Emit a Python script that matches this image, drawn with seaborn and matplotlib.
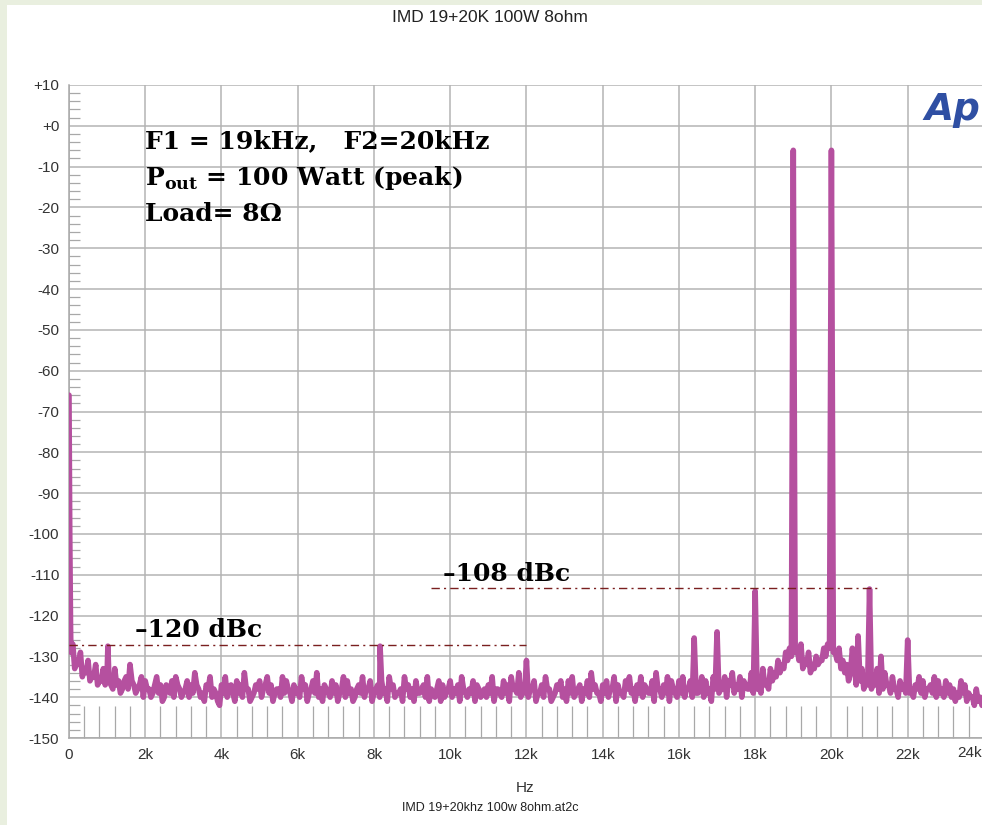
import numpy as np
import pandas as pd
import matplotlib
matplotlib.use("Agg")
import matplotlib.pyplot as plt
from matplotlib.patches import Rectangle
from matplotlib.ticker import MultipleLocator
import seaborn as sns

# FFT noise floor, one value per 100 Hz (0 .. 24.4 kHz)
floor_hz = list(range(0, 24401, 100))
floor_db = [
    -66, -127, -131, -129, -133, -131, -135, -132, -136, -133,
    -134, -137, -133, -136, -138, -135, -132, -137, -138, -135,
    -136, -138, -139, -135, -137, -140, -138, -136, -135, -138,
    -139, -136, -137, -134, -138, -139, -137, -135, -138, -141,
    -137, -135, -138, -139, -136, -137, -134, -138, -140, -137,
    -136, -138, -135, -137, -139, -138, -135, -136, -139, -137,
    -138, -135, -137, -139, -136, -134, -138, -137, -139, -136,
    -137, -139, -135, -136, -138, -140, -137, -135, -138, -136,
    -139, -137, -136, -138, -135, -137, -139, -138, -135, -137,
    -138, -136, -139, -137, -135, -138, -140, -136, -137, -139,
    -136, -138, -137, -135, -139, -138, -136, -137, -140, -138,
    -137, -135, -138, -139, -136, -137, -135, -138, -134, -137,
    -133, -138, -136, -139, -137, -135, -138, -140, -137, -136,
    -138, -136, -135, -139, -137, -138, -136, -134, -137, -139,
    -137, -136, -138, -135, -137, -139, -136, -135, -138, -137,
    -135, -137, -139, -136, -134, -138, -137, -135, -136, -139,
    -136, -135, -138, -136, -137, -139, -135, -136, -138, -135,
    -136, -138, -135, -136, -134, -137, -135, -136, -138, -134,
    -134, -137, -133, -136, -133, -134, -131, -132, -129, -128,
    -126, -128, -127, -131, -129, -132, -130, -131, -128, -127,
    -126, -129, -128, -131, -132, -134, -132, -135, -133, -136,
    -134, -136, -133, -137, -134, -137, -135, -138, -136, -137,
    -135, -138, -137, -135, -136, -138, -137, -135, -136, -138,
    -136, -137, -138, -139, -136, -137, -139, -140, -138, -140,
    -139, -142, -140, -141, -142,
]

# the bins in between (50 Hz offset), mostly the lower edge of the noise band
floor_b_hz = list(range(50, 24400, 100))
floor_b_db = [
    -129, -133, -132, -135, -134, -136, -135, -137, -136, -137,
    -136, -138, -137, -139, -136, -138, -136, -139, -137, -140,
    -138, -140, -137, -139, -141, -137, -139, -140, -137, -140,
    -138, -140, -139, -137, -140, -141, -138, -140, -139, -142,
    -139, -140, -137, -141, -139, -140, -138, -141, -139, -138,
    -140, -137, -139, -141, -138, -140, -139, -138, -141, -139,
    -140, -138, -141, -138, -139, -140, -141, -138, -140, -139,
    -141, -138, -140, -139, -141, -138, -139, -140, -138, -141,
    -138, -140, -139, -141, -138, -140, -139, -141, -138, -140,
    -141, -139, -138, -140, -141, -139, -138, -141, -140, -138,
    -140, -139, -141, -138, -140, -139, -141, -138, -139, -140,
    -139, -141, -138, -140, -139, -141, -138, -139, -140, -139,
    -140, -138, -141, -139, -140, -138, -141, -139, -138, -140,
    -141, -139, -140, -138, -141, -139, -140, -138, -139, -141,
    -139, -140, -138, -141, -139, -140, -138, -139, -141, -139,
    -140, -138, -139, -141, -138, -140, -139, -141, -138, -140,
    -139, -140, -138, -140, -139, -138, -140, -139, -141, -138,
    -139, -138, -140, -137, -139, -138, -140, -137, -138, -139,
    -138, -139, -137, -138, -136, -135, -134, -133, -131, -130,
    -129, -131, -133, -132, -134, -133, -132, -131, -130, -128,
    -129, -131, -133, -134, -136, -135, -137, -136, -138, -137,
    -138, -137, -139, -138, -137, -139, -138, -140, -138, -139,
    -139, -140, -138, -139, -140, -138, -139, -140, -139, -140,
    -139, -140, -141, -140, -139, -141, -140, -142, -141, -142,
    -142, -143, -142, -143,
]

# tones, harmonics and IMD products
spike_hz = [20, 40, 1020, 8160, 12000, 16400, 17000, 18000, 19000, 20000,
            20550, 20700, 21000, 21300, 22000]
spike_db = [-100, -122, -127.5, -127.5, -131, -125.5, -124, -114, -6, -6,
            -128, -125, -113.5, -130, -126]

# dBc reference lines
ref_db = [-127.3, -113.3]
ref_start = [0, 9500]
ref_end = [12000, 21200]
ref_text = ["\u2013120 dBc", "\u2013108 dBc"]

y_ticks = list(range(-150, 11, 10))
y_labels = ["+10" if v == 10 else "+0" if v == 0 else str(v) for v in y_ticks]
x_ticks = list(range(0, 23000, 2000))
x_labels = ["0", "2k", "4k", "6k", "8k", "10k", "12k", "14k", "16k", "18k", "20k", "22k"]

W, H = 982, 825
trace_color = "#b5509f"

df = pd.concat([
    pd.DataFrame({"hz": floor_hz, "db": floor_db}),
    pd.DataFrame({"hz": floor_b_hz, "db": floor_b_db}),
    pd.DataFrame({"hz": spike_hz, "db": spike_db}),
])
df = df.drop_duplicates("hz", keep="last").sort_values("hz")

sns.set_style("white")
plt.rcParams["font.family"] = ["Liberation Sans", "DejaVu Sans"]
plt.rcParams["mathtext.fontset"] = "custom"
plt.rcParams["mathtext.bf"] = "DejaVu Serif:bold"
plt.rcParams["mathtext.rm"] = "DejaVu Serif:bold"

fig = plt.figure(figsize=(W / 100, H / 100), dpi=100, facecolor="#e9efdf")
fig.patches.append(Rectangle((7 / W, 0), 1 - 7 / W, 1 - 5 / H, transform=fig.transFigure,
                             facecolor="white", edgecolor="none", zorder=-5))

ax = fig.add_axes([69 / W, 1 - 738 / H, (W - 69) / W, (738 - 85) / H])
ax.set_facecolor("white")

sns.lineplot(data=df, x="hz", y="db", ax=ax, color=trace_color, linewidth=4.0,
             estimator=None, sort=False, zorder=3)

for lvl, x0, x1 in zip(ref_db, ref_start, ref_end):
    ax.plot([x0, x1], [lvl, lvl], color="#7a1f1f", linewidth=1.0,
            linestyle=(0, (6, 3, 1.5, 3)), zorder=4)

ax.set_xlim(0, 23950)
ax.set_ylim(-150, 10)
ax.set_xticks(x_ticks)
ax.set_xticklabels(x_labels)
ax.set_yticks(y_ticks)
ax.set_yticklabels(y_labels)
ax.xaxis.set_minor_locator(MultipleLocator(400))
ax.yaxis.set_minor_locator(MultipleLocator(2))
ax.grid(True, which="major", color="#b4b4b4", linewidth=1.1, zorder=1)
ax.tick_params(axis="both", which="major", length=0, labelsize=11,
               labelcolor="#333333", pad=7)
ax.tick_params(axis="x", which="minor", direction="in", length=23, width=0.9,
               color="#a8a8a8", bottom=True)
ax.tick_params(axis="y", which="minor", direction="in", length=8, width=0.9,
               color="#a8a8a8", left=True)
for side in ["top", "right"]:
    ax.spines[side].set_visible(False)
for side in ["left", "bottom"]:
    ax.spines[side].set_color("#a8a8a8")
    ax.spines[side].set_linewidth(1.1)
ax.set_xlabel("Hz", fontsize=11, color="#333333", labelpad=14)
ax.set_ylabel("")

# last tick label sits at the clipped right edge
ax.text(1.0, -0.0125, "24k", transform=ax.transAxes, ha="right", va="top",
        fontsize=11, color="#333333")

fig.text(490 / W, 1 - 18 / H, "IMD 19+20K 100W 8ohm", ha="center", va="center",
         fontsize=12.5, color="#222222")
fig.text(490 / W, 1 - 808 / H, "IMD 19+20khz 100w 8ohm.at2c", ha="center", va="center",
         fontsize=9, color="#222222")

serif = dict(family="DejaVu Serif", weight="bold", color="black")
fig.text(145 / W, 1 - 148 / H, "F1 = 19kHz,   F2=20kHz", ha="left", va="baseline",
         fontsize=18, **serif)
fig.text(145 / W, 1 - 185 / H, r"P$_{\mathbf{out}}$ = 100 Watt (peak)", ha="left",
         va="baseline", fontsize=18, **serif)
fig.text(145 / W, 1 - 221 / H, "Load= 8\u03a9", ha="left", va="baseline",
         fontsize=18, **serif)
for txt, xp, yp in zip(ref_text, [135, 443], [637, 581]):
    fig.text(xp / W, 1 - yp / H, txt, ha="left", va="baseline", fontsize=18, **serif)

fig.text(980 / W, 1 - 120 / H, "Ap", ha="right", va="baseline", fontsize=27,
         family="DejaVu Sans", weight="bold", style="italic", color="#2f4fa3")

fig.savefig("out.png", dpi=100, facecolor=fig.get_facecolor())
